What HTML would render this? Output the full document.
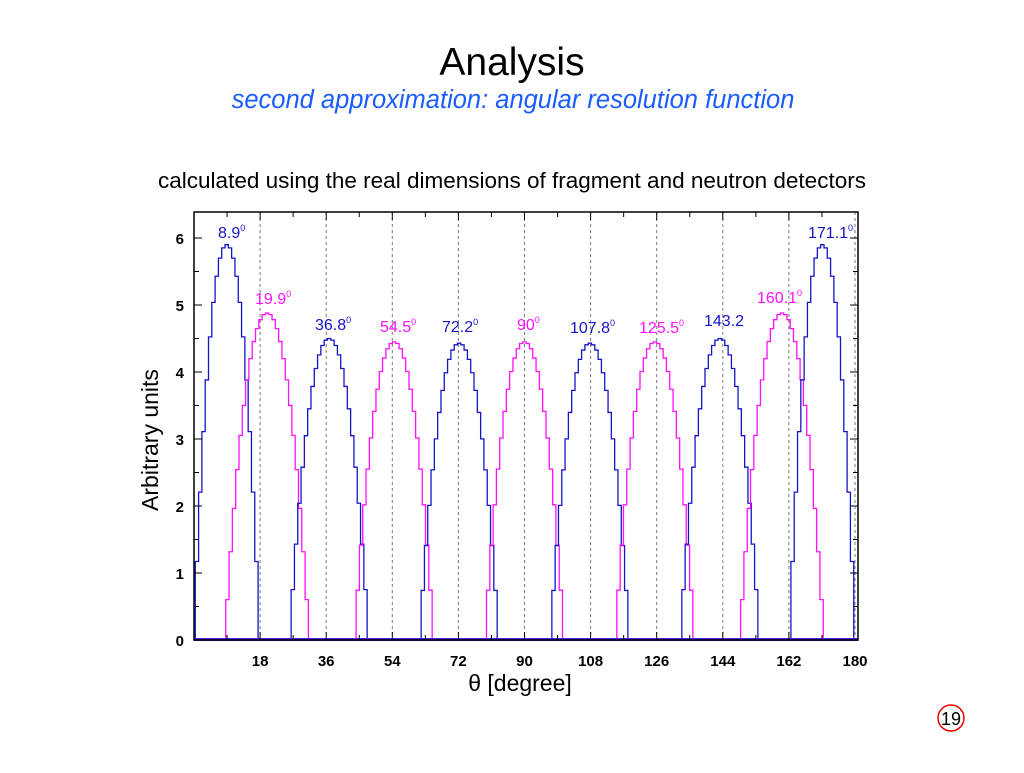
<!DOCTYPE html>
<html><head><meta charset="utf-8"><style>
body{margin:0;background:#fff;width:1024px;height:768px;overflow:hidden;font-family:"Liberation Sans",sans-serif}
</style></head><body>
<svg id="s" width="1024" height="768" xmlns="http://www.w3.org/2000/svg" font-family="Liberation Sans, sans-serif">
<text x="512" y="75" font-size="39" text-anchor="middle">Analysis</text>
<text x="513" y="108" font-size="25.5" font-style="italic" fill="#1a5cff" text-anchor="middle">second approximation: angular resolution function</text>
<text x="512" y="188" font-size="22.5" text-anchor="middle">calculated using the real dimensions of fragment and neutron detectors</text>
<text transform="translate(158,440) rotate(-90)" font-size="23" text-anchor="middle">Arbitrary units</text>
<text x="520" y="691" font-size="23" text-anchor="middle">θ [degree]</text>
<circle cx="951" cy="718" r="13" fill="none" stroke="#e00" stroke-width="1.5"/>
<text x="951" y="725" font-size="18" text-anchor="middle">19</text>
<g id="g"></g>
</svg>
<script>
var g=document.getElementById('g');var h='';
var X=function(t){return 194+t*(855-194)/180};var Y=function(v){return 640-v*67};
for(var t=18;t<=180;t+=18){h+='<line x1="'+X(t)+'" y1="212" x2="'+X(t)+'" y2="640" stroke="#777" stroke-width="1" stroke-dasharray="3,3"/>';}
var pk=[[8.9,5.9,'#1414c8',9],[19.9,4.88,'#ff10ff',11.5],[36.8,4.5,'#1414c8',10.8],[54.5,4.45,'#ff10ff',10.8],[72.2,4.43,'#1414c8',10.8],[90,4.45,'#ff10ff',10.8],[107.8,4.43,'#1414c8',10.8],[125.5,4.45,'#ff10ff',10.8],[143.2,4.5,'#1414c8',10.8],[160.1,4.88,'#ff10ff',11.5],[171.1,5.9,'#1414c8',9]];
var bw=0.9;
pk.forEach(function(p){var d='';var W=p[3];
var n=Math.ceil(W/bw);var t0=p[0]-bw/2-n*bw;
var pts=[];
for(var i=0;i<=2*n;i++){var a=t0+i*bw,b=a+bw;var c=a+bw/2;var r=Math.abs(c-p[0])/W;var v=r>=1?0:p[1]*(1-Math.pow(r,2.1));
 a=Math.max(0,a);b=Math.min(180,b);if(b<=a)continue;pts.push([a,b,v]);}
d='M'+X(pts[0][0])+' '+Y(0);
pts.forEach(function(q){d+=' L'+X(q[0])+' '+Y(q[2])+' L'+X(q[1])+' '+Y(q[2]);});
d+=' L'+X(pts[pts.length-1][1])+' '+Y(0);
h+='<path d="'+d+'" fill="none" stroke="'+p[2]+'" stroke-width="1.3"/>';});
h+='<line x1="194" y1="639.5" x2="858" y2="639.5" stroke="#5020e0" stroke-width="3"/>';
h+='<rect x="194" y="212" width="664" height="428" fill="none" stroke="#000" stroke-width="1.5"/>';
for(var t=9;t<180;t+=9){var l=(t%18==0)?8:5;h+='<line x1="'+X(t)+'" y1="640" x2="'+X(t)+'" y2="'+(640-l)+'" stroke="#000"/><line x1="'+X(t)+'" y1="212" x2="'+X(t)+'" y2="'+(212+l)+'" stroke="#000"/>';}
for(var t=18;t<=180;t+=18)h+='<text x="'+X(t)+'" y="666" font-size="15" font-weight="bold" text-anchor="middle">'+t+'</text>';
for(var v=0;v<=6.4;v+=0.5){var l=(v%1==0)?8:5;h+='<line x1="194" y1="'+Y(v)+'" x2="'+(194+l)+'" y2="'+Y(v)+'" stroke="#000"/><line x1="858" y1="'+Y(v)+'" x2="'+(858-l)+'" y2="'+Y(v)+'" stroke="#000"/>';}
for(var v=0;v<=6;v++)h+='<text x="184" y="'+(Y(v)+6)+'" font-size="15" font-weight="bold" text-anchor="end">'+v+'</text>';
var lb=[[218,238,'8.9','#1414c8',1],[255,304,'19.9','#ff10ff',1],[315,330,'36.8','#1414c8',1],[380,332,'54.5','#ff10ff',1],[442,332,'72.2','#1414c8',1],[517,330,'90','#ff10ff',1],[570,333,'107.8','#1414c8',1],[639,333,'125.5','#ff10ff',1],[704,326,'143.2','#1414c8',0],[757,303,'160.1','#ff10ff',1],[808,238,'171.1','#1414c8',1]];
lb.forEach(function(a){h+='<text x="'+a[0]+'" y="'+a[1]+'" font-size="16" fill="'+a[3]+'">'+a[2]+(a[4]?'<tspan font-size="9" dy="-7">0</tspan>':'')+'</text>';});
g.innerHTML=h;
</script>
</body></html>
